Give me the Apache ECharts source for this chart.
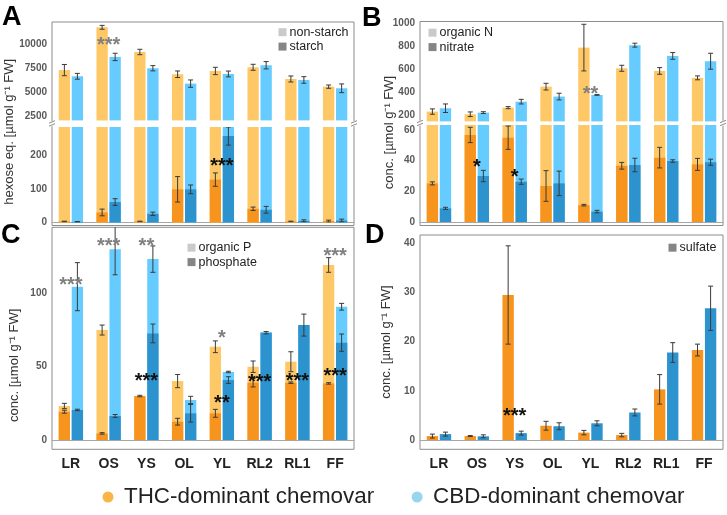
<!DOCTYPE html>
<html><head><meta charset="utf-8">
<script src="https://cdn.jsdelivr.net/npm/echarts@6/dist/echarts.min.js"></script>
<style>html,body{margin:0;padding:0;background:#fff}#c{width:727px;height:515px}</style>
</head><body><div id="c"></div>
<script>
// ---------------- DATA ----------------
const categories = ['LR','OS','YS','OL','YL','RL2','RL1','FF'];

// Panel A: hexose equivalents
const nonStarchTHC    = [7300, 11720, 9170, 6870, 7210, 7590, 6380, 5590];
const nonStarchTHCErr = [580, 200, 280, 340, 380, 310, 310, 170];
const nonStarchCBD    = [6660, 8660, 7490, 5900, 6900, 7800, 6280, 5420];
const nonStarchCBDErr = [300, 380, 270, 380, 300, 380, 340, 450];
const starchTHC       = [3, 30, 3, 99, 128, 41, 3, 4];
const starchTHCErr    = [1, 10, 1, 38, 20, 5, 1, 3];
const starchCBD       = [2, 61, 26, 99, 258, 38, 5, 6];
const starchCBDErr    = [1, 10, 5, 13, 27, 10, 3, 4];

// Panel B: nitrogen
const orgNTHC       = [235, 212, 269, 451, 789, 610, 587, 527];
const orgNTHCErr    = [23, 20, 9, 29, 202, 26, 29, 17];
const orgNCBD       = [264, 226, 321, 365, 379, 810, 717, 671];
const orgNCBDErr    = [37, 8, 20, 29, 3, 17, 29, 69];
const nitrateTHC    = [25.2, 56.8, 55, 23.5, 11, 36.7, 42, 37.6];
const nitrateTHCErr = [1, 5, 7.6, 10, 0.5, 2.2, 6.7, 3.9];
const nitrateCBD    = [8.9, 30, 26.3, 25.2, 6.8, 37.2, 39.8, 39];
const nitrateCBDErr = [0.7, 3.7, 1.7, 8, 0.8, 4.4, 0.8, 2];

// Panel C: phosphorus
const orgPTHC       = [23.2, 75, 29, 40.2, 63.6, 50, 53.4, 119.4];
const orgPTHCErr    = [1.8, 3.4, 0, 4.5, 4, 3.9, 6.8, 5];
const orgPCBD       = [104.6, 130.2, 123.4, 27.3, 46.4, 73.5, 78.5, 90.9];
const orgPCBDErr    = [16.4, 17.5, 9, 2.5, 0.5, 0, 0, 2.3];
const phosTHC       = [19.3, 4.5, 30, 12.5, 18.2, 39.1, 39.1, 38.6];
const phosTHCErr    = [1, 0.5, 0.5, 2.3, 2.7, 2.9, 0.5, 0.5];
const phosCBD       = [20.5, 16.4, 72.7, 18.2, 40.9, 73.2, 78.4, 66.4];
const phosCBDErr    = [0.5, 1, 6.4, 6, 2.3, 0.8, 7.5, 5.9];

// Panel D: sulfate
const sulfateTHC    = [0.8, 0.8, 29.5, 2.9, 1.5, 1.0, 10.3, 18.3];
const sulfateTHCErr = [0.4, 0.1, 10, 0.9, 0.45, 0.35, 3, 1.2];
const sulfateCBD    = [1.2, 0.75, 1.4, 2.8, 3.4, 5.6, 17.8, 26.8];
const sulfateCBDErr = [0.4, 0.3, 0.4, 0.7, 0.5, 0.7, 2, 4.5];

// Tick labels
const ticksAUpper = [2500, 5000, 7500, 10000];
const ticksALower = [0, 100, 200];
const ticksBUpper = [200, 400, 600, 800, 1000];
const ticksBLower = [0, 20, 40, 60];
const ticksC = [0, 50, 100];
const ticksD = [0, 10, 20, 30, 40];

// Significance marks [category, y value, text, colour g=grey k=black]
const starsAUpper = [['OS', 10400, '***', 'g']];
const starsALower = [['YL', 181, '***', 'k']];
const starsBUpper = [['YL', 429, '**', 'g']];
const starsBLower = [['OS', 38.6, '*', 'k'], ['YS', 32.1, '*', 'k']];
const starsC = [['LR', 108.6, '***', 'g'], ['OS', 135.2, '***', 'g'], ['YS', 135.2, '**', 'g'],
                ['YL', 72.8, '*', 'g'], ['FF', 128.4, '***', 'g'],
                ['YS', 43.2, '***', 'k'], ['YL', 28, '**', 'k'], ['RL2', 42.5, '***', 'k'],
                ['RL1', 43.2, '***', 'k'], ['FF', 47, '***', 'k']];
const starsD = [['YS', 5.75, '***', 'k']];

// ---------------- STYLE / LAYOUT ----------------
const FONT = "'Liberation Sans', Arial, Helvetica, sans-serif";
const COL = {thcLight:'#FFC866', cbdLight:'#66CCFF', thcDark:'#F7941D', cbdDark:'#2D93CE',
  frame:'#8C8C8C', zero:'#A6A6A6', err:'#3A3A3A', label:'#595959', gStar:'#808080', kStar:'#111111',
  legLight:'#BDBDBD', legDark:'#666666', thcDot:'#F9A31A', cbdDot:'#80CBEB'};
const BW = 0.30, BG = 0.15, OFF = BW * (1 + BG) / 2;
const STAR_DY = 5;

const grids = [], xAxes = [], yAxes = [], series = [];

function addGrid(r, show) {
  grids.push({left:r.left, top:r.top, width:r.width, height:r.height, show:!!show,
    borderColor:COL.frame, borderWidth:1, backgroundColor:'transparent', containLabel:false});
  return grids.length - 1;
}
function addFrame(r, name, gap, pad) {
  const g = addGrid(r, true);
  xAxes.push({gridIndex:g, type:'value', show:false});
  yAxes.push({gridIndex:g, type:'value', axisLine:{show:false}, axisTick:{show:false},
    axisLabel:{show:false}, splitLine:{show:false}, name:name, nameLocation:'middle', nameGap:gap,
    nameTextStyle:{fontFamily:FONT, fontSize:13, color:'#333', padding:pad}});
  return {x:xAxes.length - 1, y:yAxes.length - 1};
}
function addCatAxis(g, zero, labels, show) {
  xAxes.push({gridIndex:g, type:'category', data:categories, show:show !== false,
    axisTick:{show:false}, axisLine:{show:zero, onZero:false, lineStyle:{color:COL.zero, width:1}},
    axisLabel:{show:!!labels, color:'#222', fontWeight:'bold', fontSize:14, fontFamily:FONT, margin:17, interval:0},
    splitLine:{show:false}});
  return xAxes.length - 1;
}
function addValAxis(g, min, max, interval, ticks) {
  yAxes.push({gridIndex:g, type:'value', min:min, max:max, interval:interval,
    axisLine:{show:false}, axisTick:{show:false}, splitLine:{show:false},
    axisLabel:{margin:5, color:COL.label, fontWeight:'bold', fontSize:10, fontFamily:FONT,
      showMinLabel:true, showMaxLabel:true,
      formatter: v => ticks.some(t => Math.abs(t - v) < 1e-6) ? String(Math.round(v)) : ''}});
  return yAxes.length - 1;
}
function addBar(xi, yi, vals, color, z) {
  series.push({type:'bar', xAxisIndex:xi, yAxisIndex:yi, data:vals, barWidth:(BW*100)+'%',
    barGap:(BG*100)+'%', itemStyle:{color:color}, clip:true, z:z, silent:true});
}
function addErr(xi, yi, vals, errs, sign) {
  series.push({type:'custom', xAxisIndex:xi, yAxisIndex:yi, clip:true, z:5, silent:true,
    data: vals.map((v, i) => [i, v, errs[i]]),
    renderItem: (p, api) => {
      const i = api.value(0), v = api.value(1), e = api.value(2);
      if (!e) return null;
      const band = api.size([1, 0])[0];
      const hi = api.coord([i, v + e]), lo = api.coord([i, v - e]);
      const x = hi[0] + sign * band * OFF, c = 2.5;
      const st = {stroke:COL.err, lineWidth:1};
      return {type:'group', children:[
        {type:'line', shape:{x1:x, y1:hi[1], x2:x, y2:lo[1]}, style:st},
        {type:'line', shape:{x1:x-c, y1:hi[1], x2:x+c, y2:hi[1]}, style:st},
        {type:'line', shape:{x1:x-c, y1:lo[1], x2:x+c, y2:lo[1]}, style:st}]};
    }});
}
function addStars(xi, yi, list) {
  series.push({type:'custom', xAxisIndex:xi, yAxisIndex:yi, clip:false, z:6, silent:true,
    data: list.map(s => [categories.indexOf(s[0]), s[1]]),
    renderItem: (p, api) => {
      const s = list[p.dataIndex];
      const c = api.coord([api.value(0), api.value(1)]);
      return {type:'text', x:c[0], y:c[1] + STAR_DY, style:{text:s[2],
        fill: s[3] === 'g' ? COL.gStar : COL.kStar, font:'bold 20px ' + FONT,
        align:'center', verticalAlign:'middle'}};
    }});
}
function addLegendDummy(ax, name, color, type) {
  series.push({type:type || 'scatter', name:name, xAxisIndex:ax.x, yAxisIndex:ax.y, data:[],
    itemStyle:{color:color}});
}

// ---------------- PANEL A ----------------
const fA = addFrame({left:52, top:22, width:302, height:203.5}, 'hexose eq. [µmol g⁻¹ FW]', 36, [0,16,0,0]);
const gAu = addGrid({left:52, top:22, width:302, height:98.4});
const xAu = addCatAxis(gAu, false, false);
const yAu = addValAxis(gAu, 2100, 12270, 100, ticksAUpper);
addBar(xAu, yAu, nonStarchTHC, COL.thcLight, 2);
addBar(xAu, yAu, nonStarchCBD, COL.cbdLight, 2);
addErr(xAu, yAu, nonStarchTHC, nonStarchTHCErr, -1);
addErr(xAu, yAu, nonStarchCBD, nonStarchCBDErr, 1);
addStars(xAu, yAu, starsAUpper);

const gAl = addGrid({left:52, top:127, width:302, height:95.5});
const xAlL = addCatAxis(gAl, true, false);
const xAlD = addCatAxis(gAl, false, false, false);
const yAl = addValAxis(gAl, 0, 285, 100, ticksALower);
addBar(xAlL, yAl, nonStarchTHC, COL.thcLight, 2);
addBar(xAlL, yAl, nonStarchCBD, COL.cbdLight, 2);
addBar(xAlD, yAl, starchTHC, COL.thcDark, 3);
addBar(xAlD, yAl, starchCBD, COL.cbdDark, 3);
addErr(xAlD, yAl, starchTHC, starchTHCErr, -1);
addErr(xAlD, yAl, starchCBD, starchCBDErr, 1);
addStars(xAlD, yAl, starsALower);
addLegendDummy(fA, 'non-starch', COL.legLight);
addLegendDummy(fA, 'starch', COL.legDark);

// ---------------- PANEL B ----------------
const fB = addFrame({left:420, top:21.5, width:303, height:204}, 'conc. [µmol g⁻¹ FW]', 24, [0,18,0,0]);
const gBu = addGrid({left:420, top:21.5, width:303, height:99.9});
const xBu = addCatAxis(gBu, false, false);
const yBu = addValAxis(gBu, 150, 1015, 50, ticksBUpper);
addBar(xBu, yBu, orgNTHC, COL.thcLight, 2);
addBar(xBu, yBu, orgNCBD, COL.cbdLight, 2);
addErr(xBu, yBu, orgNTHC, orgNTHCErr, -1);
addErr(xBu, yBu, orgNCBD, orgNCBDErr, 1);
addStars(xBu, yBu, starsBUpper);

const gBl = addGrid({left:420, top:125, width:303, height:97});
const xBlL = addCatAxis(gBl, true, false);
const xBlD = addCatAxis(gBl, false, false, false);
const yBl = addValAxis(gBl, 0, 63.3, 20, ticksBLower);
addBar(xBlL, yBl, orgNTHC, COL.thcLight, 2);
addBar(xBlL, yBl, orgNCBD, COL.cbdLight, 2);
addBar(xBlD, yBl, nitrateTHC, COL.thcDark, 3);
addBar(xBlD, yBl, nitrateCBD, COL.cbdDark, 3);
addErr(xBlD, yBl, nitrateTHC, nitrateTHCErr, -1);
addErr(xBlD, yBl, nitrateCBD, nitrateCBDErr, 1);
addStars(xBlD, yBl, starsBLower);
addLegendDummy(fB, 'organic N', COL.legLight);
addLegendDummy(fB, 'nitrate', COL.legDark);

// ---------------- PANEL C ----------------
const fC = addFrame({left:52, top:227.3, width:302, height:222}, 'conc. [µmol g⁻¹ FW]', 31, [0,54,0,0]);
const gC = addGrid({left:52, top:227.3, width:302, height:212.7});
const xCL = addCatAxis(gC, true, true);
const xCD = addCatAxis(gC, false, false, false);
const yC = addValAxis(gC, 0, 145.1, 50, ticksC);
addBar(xCL, yC, orgPTHC, COL.thcLight, 2);
addBar(xCL, yC, orgPCBD, COL.cbdLight, 2);
addBar(xCD, yC, phosTHC, COL.thcDark, 3);
addBar(xCD, yC, phosCBD, COL.cbdDark, 3);
addErr(xCL, yC, orgPTHC, orgPTHCErr, -1);
addErr(xCL, yC, orgPCBD, orgPCBDErr, 1);
addErr(xCD, yC, phosTHC, phosTHCErr, -1);
addErr(xCD, yC, phosCBD, phosCBDErr, 1);
addStars(xCD, yC, starsC);
addLegendDummy(fC, 'organic P', COL.legLight);
addLegendDummy(fC, 'phosphate', COL.legDark);

// ---------------- PANEL D ----------------
const fD = addFrame({left:420, top:235, width:303, height:214.3}, 'conc. [µmol g⁻¹ FW]', 27, [0,0,0,0]);
const gD = addGrid({left:420, top:235, width:303, height:205});
const xD = addCatAxis(gD, true, true);
const yD = addValAxis(gD, 0, 41.7, 10, ticksD);
addBar(xD, yD, sulfateTHC, COL.thcDark, 3);
addBar(xD, yD, sulfateCBD, COL.cbdDark, 3);
addErr(xD, yD, sulfateTHC, sulfateTHCErr, -1);
addErr(xD, yD, sulfateCBD, sulfateCBDErr, 1);
addStars(xD, yD, starsD);
addLegendDummy(fD, 'sulfate', COL.legDark);

// main legend dummies
addLegendDummy(fD, 'THC-dominant chemovar', COL.thcDot);
addLegendDummy(fD, 'CBD-dominant chemovar', COL.cbdDot);

// ---------------- DECORATION ----------------
function breakMark(x, y) {
  const st = {stroke:COL.frame, lineWidth:1};
  return [
    {type:'rect', shape:{x:x-3.5, y:y-2.5, width:7, height:5}, style:{fill:'#fff'}, z:100},
    {type:'line', shape:{x1:x-3, y1:y-0.5, x2:x+3, y2:y-3}, style:st, z:101},
    {type:'line', shape:{x1:x-3, y1:y+2.5, x2:x+3, y2:y}, style:st, z:101}];
}
const graphics = [].concat(breakMark(52, 123.7), breakMark(354, 123.7),
                           breakMark(420, 123.2), breakMark(723, 123.2));

const smallLegend = (names, left, top) => ({data:names, orient:'vertical', left:left, top:top,
  padding:0, icon:'rect', itemWidth:8, itemHeight:8, itemGap:0, selectedMode:false,
  textStyle:{fontFamily:FONT, fontSize:12.5, color:'#222', lineHeight:14.4, padding:[0,0,0,-2]}});

const panelTitle = (t, left, top) => ({text:t, left:left, top:top, padding:0,
  textStyle:{fontFamily:FONT, fontSize:27, fontWeight:'bold', color:'#000'}});

const option = {
  animation:false,
  backgroundColor:'#fff',
  title:[panelTitle('A', 2, 4), panelTitle('B', 362, 5), panelTitle('C', 1, 222), panelTitle('D', 365, 222)],
  legend:[
    smallLegend(['non-starch','starch'], 278.5, 25),
    smallLegend(['organic N','nitrate'], 428.5, 25.5),
    smallLegend(['organic P','phosphate'], 187.5, 240.5),
    smallLegend(['sulfate'], 668.5, 240.5),
    {data:['THC-dominant chemovar','CBD-dominant chemovar'], left:102.5, top:486, padding:0,
     icon:'circle', itemWidth:11, itemHeight:11, itemGap:37.5, selectedMode:false,
     textStyle:{fontFamily:FONT, fontSize:22.4, color:'#222', padding:[0,0,0,5.5]}}
  ],
  grid:grids, xAxis:xAxes, yAxis:yAxes, series:series, graphic:graphics
};
const chart = echarts.init(document.getElementById('c'), null, {renderer:'canvas'});
chart.setOption(option);
</script></body></html>
